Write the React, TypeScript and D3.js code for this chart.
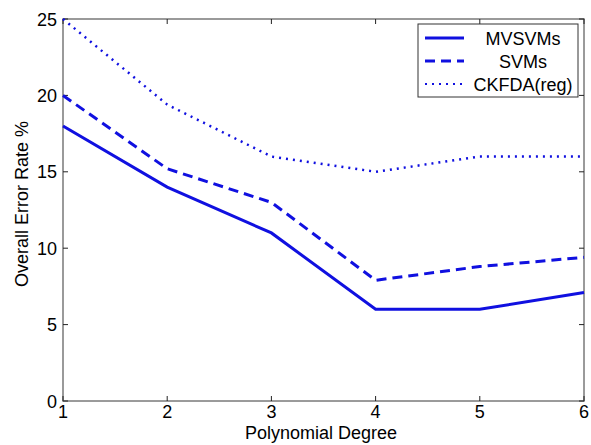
import React, { useRef, useEffect } from "react";
import * as d3 from "d3";

const degrees = [1, 2, 3, 4, 5, 6];
const mvsvms = [18, 14, 11, 6, 6, 7.1];
const svms = [20, 15.2, 13, 7.9, 8.8, 9.4];
const ckfda = [25, 19.4, 16, 15, 16, 16];
const yTicks = [0, 5, 10, 15, 20, 25];
const seriesNames = ["MVSVMs", "SVMs", "CKFDA(reg)"];

export default function App() {
  const svgRef = useRef<SVGSVGElement>(null);

  useEffect(() => {
    const width = 591, height = 445;
    const margin = { top: 19, right: 7, bottom: 44, left: 63 };
    const w = width - margin.left - margin.right;
    const h = height - margin.top - margin.bottom;

    const svg = d3.select(svgRef.current);
    svg.selectAll("*").remove();

    const g = svg.append("g").attr("transform", `translate(${margin.left},${margin.top})`);

    const x = d3.scaleLinear().domain([1, 6]).range([0, w]);
    const y = d3.scaleLinear().domain([0, 25]).range([h, 0]);

    const axisColor = "#7a7a7a";
    const font = "Liberation Sans, Arial, sans-serif";

    // frame
    g.append("rect")
      .attr("width", w).attr("height", h)
      .attr("fill", "white").attr("stroke", axisColor).attr("stroke-width", 1.5);

    // ticks (inward, all sides)
    const tl = 5;
    degrees.forEach(d => {
      g.append("line").attr("x1", x(d)).attr("x2", x(d)).attr("y1", h).attr("y2", h - tl).attr("stroke", "#222");
      g.append("line").attr("x1", x(d)).attr("x2", x(d)).attr("y1", 0).attr("y2", tl).attr("stroke", "#222");
      g.append("text").attr("x", x(d)).attr("y", h + 17).attr("text-anchor", "middle")
        .attr("font-family", font).attr("font-size", 18).text(d);
    });
    yTicks.forEach(t => {
      g.append("line").attr("x1", 0).attr("x2", tl).attr("y1", y(t)).attr("y2", y(t)).attr("stroke", "#222");
      g.append("line").attr("x1", w).attr("x2", w - tl).attr("y1", y(t)).attr("y2", y(t)).attr("stroke", "#222");
      g.append("text").attr("x", -6).attr("y", y(t) + 6.5).attr("text-anchor", "end")
        .attr("font-family", font).attr("font-size", 18).text(t);
    });

    const color = "#1010e0";
    const dashes = [null, "10,6", "2,5"];
    const series = [mvsvms, svms, ckfda];

    const line = d3.line<number>()
      .x((_, i) => x(degrees[i]))
      .y(d => y(d));

    series.forEach((s, i) => {
      g.append("path")
        .datum(s)
        .attr("d", line)
        .attr("fill", "none")
        .attr("stroke", color)
        .attr("stroke-width", i === 2 ? 2.5 : 3)
        .attr("stroke-dasharray", dashes[i])
        .attr("stroke-linecap", "butt");
    });

    // legend
    const lg = svg.append("g").attr("transform", "translate(418,24)");
    lg.append("rect").attr("width", 160).attr("height", 73)
      .attr("fill", "white").attr("stroke", "#333").attr("stroke-width", 1);
    seriesNames.forEach((name, i) => {
      const yy = 14 + i * 23;
      lg.append("line").attr("x1", 7).attr("x2", 46).attr("y1", yy).attr("y2", yy)
        .attr("stroke", color).attr("stroke-width", i === 2 ? 2 : 3)
        .attr("stroke-dasharray", dashes[i]);
      lg.append("text").attr("x", 105).attr("y", yy + 7).attr("text-anchor", "middle")
        .attr("font-family", font).attr("font-size", 18).text(name);
    });

    // axis labels
    svg.append("text")
      .attr("x", 321).attr("y", 439)
      .attr("text-anchor", "middle").attr("font-family", font).attr("font-size", 18)
      .text("Polynomial Degree");
    svg.append("text")
      .attr("transform", `translate(28,204) rotate(-90)`)
      .attr("text-anchor", "middle").attr("font-family", font).attr("font-size", 18)
      .text("Overall Error Rate %");
  }, []);

  return (
    <svg ref={svgRef} width={591} height={445}
      style={{ position: "absolute", left: 0, top: 0, background: "white" }} />
  );
}
